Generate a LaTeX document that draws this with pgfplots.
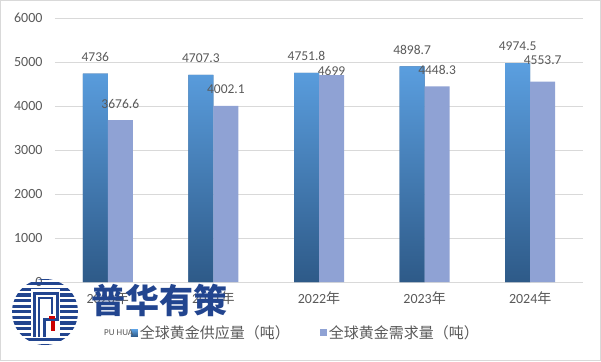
\documentclass[border=0pt]{standalone}
\usepackage{pgfplots}
\pgfplotsset{compat=1.18}
\usepackage{fontspec}
\setmainfont{Carlito}
\newfontfamily\cjk{Noto Sans CJK SC}
\definecolor{txt}{HTML}{595959}
\definecolor{barTop}{HTML}{5B9FE0}
\definecolor{barBot}{HTML}{2E5A88}
\definecolor{barDark}{HTML}{2F5C8C}
\definecolor{barLight}{HTML}{8FA2D4}
\definecolor{gridc}{HTML}{D9D9D9}
\definecolor{logo}{HTML}{22458F}
\begin{document}
\begin{tikzpicture}[x=1pt,y=1pt]
\draw[draw=gridc, line width=1pt] (0.5,0.5) rectangle (600.5,360.5);
\begin{axis}[
  at={(55pt,79pt)}, anchor=south west,
  scale only axis, width=528pt, height=264pt,
  xmin=-0.5, xmax=4.5, ymin=0, ymax=6000,
  ytick={0,1000,...,6000},
  xtick={0,1,2,3,4},
  xticklabels={{2020\cjk{年}},{2021\cjk{年}},{2022\cjk{年}},{2023\cjk{年}},{2024\cjk{年}}},
  axis lines*=left,
  x axis line style={draw=gridc, line width=0.8pt},
  y axis line style={draw=none},
  major tick length=0pt,
  ymajorgrids, grid style={draw=gridc, line width=0.8pt},
  /pgf/number format/1000 sep={},
  /pgf/number format/assume math mode=true,
  tick label style={font=\fontsize{14}{16}\selectfont, text=txt},
  yticklabel style={xshift=-9pt},
  xticklabel style={yshift=-6pt},
  ybar, bar width=25pt,
  point meta=explicit symbolic,
  visualization depends on={\thisrow{dy} \as \dy},
  nodes near coords,
  nodes near coords style={font=\fontsize{13.5}{15}\selectfont, text=txt, yshift=\dy pt},
  legend style={at={(0.475,-0.193)}, anchor=center, draw=none, fill=none,
    legend columns=2, font=\cjk\fontsize{15}{17}\selectfont, text=txt,
    /tikz/every even column/.append style={column sep=28pt}},
  legend image code/.code={\fill[#1] (0pt,-3.5pt) rectangle (7pt,3.5pt);},
]
\addplot+[bar shift=-12.5pt, draw=none, top color=barTop, bottom color=barBot, fill=barDark]
  table[x=x, y=y, meta=lab] {
x y lab dy
0 4736 4736 8.5
1 4707.3 4707.3 8.5
2 4751.8 4751.8 8.5
3 4898.7 4898.7 8.5
4 4974.5 4974.5 8.5
};
\addlegendentry{全球黄金供应量（吨）}
\addplot+[bar shift=12.5pt, draw=none, fill=barLight]
  table[x=x, y=y, meta=lab] {
x y lab dy
0 3676.6 3676.6 8.5
1 4002.1 4002.1 8.5
2 4699 4699 -4
3 4448.3 4448.3 8.5
4 4553.7 4553.7 14
};
\addlegendentry{全球黄金需求量（吨）}
\end{axis}
% watermark
\begin{scope}
  \clip (45,49) circle (33);
  \foreach \k in {0,...,12} {
    \fill[logo] (10,{14+\k*5.6}) rectangle (80,{17.2+\k*5.6});
  }
\end{scope}
\fill[white] (31,25) rectangle (60,72);
\draw[logo, line width=3pt] (34,24) -- (34,68) -- (57,68) -- (57,42) -- (44,42) -- (44,24);
\draw[logo, line width=2pt] (39,24) -- (39,63) -- (52,63) -- (52,47);
\fill[red!80!black] (51,30) rectangle (55,40);
\fill[red!80!black] (49,42) rectangle (55,45);
\node[font=\cjk\bfseries\fontsize{34}{36}\selectfont, text=logo, anchor=center, inner sep=0pt] at (159,61) {普华有策};
\node[font=\fontsize{9}{10}\selectfont, text=txt, anchor=west, inner sep=0pt] at (104,28) {PU HUA};
\end{tikzpicture}
\end{document}
